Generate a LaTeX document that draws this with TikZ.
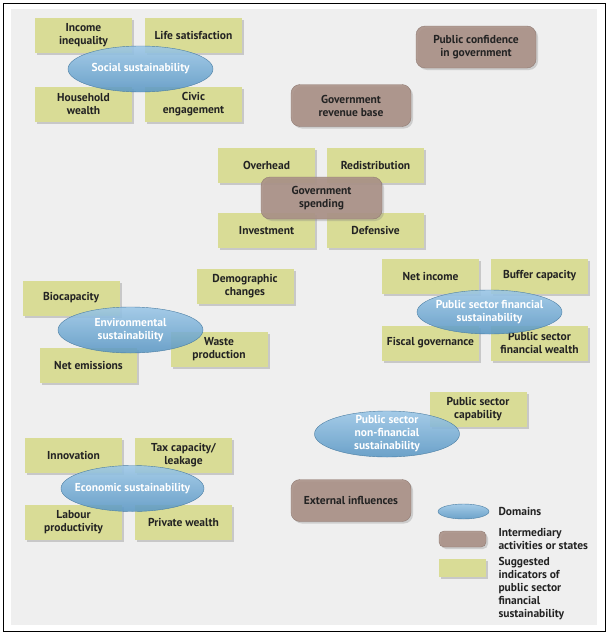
\documentclass[tikz,border=0pt]{standalone}
\usepackage{fontspec}
\setmainfont{PT Sans}
\usetikzlibrary{shapes.geometric,shadows}

\definecolor{indgreen}{RGB}{217,220,150}
\definecolor{interbrown}{RGB}{170,145,135}
\definecolor{domblue}{RGB}{100,168,218}
\definecolor{panelgrey}{RGB}{239,239,239}
\definecolor{textgrey}{RGB}{35,35,35}

\tikzset{
    lbl/.style = {font=\fontsize{11.5}{13}\selectfont\bfseries, text=textgrey, align=center},
    indbox/.style = {lbl, rectangle, fill=indgreen, minimum width=97pt, minimum height=35pt,
        inner sep=1pt, drop shadow={shadow xshift=2pt, shadow yshift=-2pt, opacity=0.35}},
    domell/.style = {lbl, ellipse, text=white, draw=domblue!75!black, line width=0.4pt,
        top color=domblue!65!white, bottom color=domblue!90!black, fill opacity=0.88, text opacity=1,
        minimum width=145pt, minimum height=46pt, inner xsep=-12pt, inner ysep=-9pt},
    interbox/.style = {lbl, rectangle, rounded corners=9pt, fill=interbrown, draw=interbrown!85!black,
        line width=0.4pt, minimum width=120pt, minimum height=42pt, fill opacity=0.9, text opacity=1,
        drop shadow={shadow xshift=2pt, shadow yshift=-2pt, opacity=0.3}},
    keytext/.style = {lbl, anchor=west, align=left},
}

\begin{document}
\begin{tikzpicture}[x=1pt, y=-1pt]
    \useasboundingbox (0,0) rectangle (607,637);
    \draw[line width=1pt] (3,3) rectangle (605,631);
    \fill[panelgrey] (11,9) rectangle (597,625);

    \path
        (83.5,35.5) node[indbox] (inc) {Income\\inequality}
        (193.5,35.5) node[indbox] (life) {Life satisfaction}
        (83.5,104) node[indbox] (hh) {Household\\wealth}
        (193.5,104) node[indbox] (civ) {Civic\\engagement}
        (140.5,69) node[domell] (soc) {Social sustainability}

        (476,47) node[interbox] (conf) {Public confidence\\in government}
        (351,105.5) node[interbox] (rev) {Government\\revenue base}

        (266.5,165.5) node[indbox] (ovh) {Overhead}
        (375.5,165.5) node[indbox] (redist) {Redistribution}
        (266.5,230.5) node[indbox] (invest) {Investment}
        (375.5,230.5) node[indbox] (defens) {Defensive}
        (321.5,198) node[interbox, minimum width=121pt] (spend) {Government\\spending}

        (71,298) node[indbox] (bio) {Biocapacity}
        (245,286) node[indbox] (demo) {Demographic\\changes}
        (219,349.5) node[indbox] (waste) {Waste\\production}
        (88.5,365) node[indbox] (netem) {Net emissions}
        (130.5,330) node[domell] (env) {Environmental\\sustainability}

        (430.5,276) node[indbox] (netinc) {Net income}
        (539.5,276) node[indbox] (buffer) {Buffer capacity}
        (430.5,343) node[indbox] (fiscal) {Fiscal governance}
        (539.5,343) node[indbox] (pswealth) {Public sector\\financial wealth}
        (489.5,312) node[domell, minimum height=44pt] (psf) {Public sector financial\\sustainability}

        (478,409.5) node[indbox] (capab) {Public sector\\capability}
        (387,434) node[domell] (psnf) {Public sector\\non-financial\\sustainability}

        (73.5,455) node[indbox] (innov) {Innovation}
        (183.5,455) node[indbox] (tax) {Tax capacity/\\leakage}
        (73.5,522.5) node[indbox] (labour) {Labour\\productivity}
        (183.5,522.5) node[indbox] (priv) {Private wealth}
        (132.5,488.5) node[domell, minimum width=143pt] (econ) {Economic sustainability}

        (351,500.5) node[interbox] (ext) {External influences}

        (463.5,511.5) node[domell, minimum width=51pt, minimum height=15pt] (keydom) {}
        (462.5,539) node[interbox, minimum width=47pt, minimum height=16pt, rounded corners=5pt] (keyint) {}
        (462.5,568) node[indbox, minimum width=47pt, minimum height=18pt] (keyind) {}
        (495,511.5) node[keytext] (keydomtxt) {Domains}
        (495,539) node[keytext] (keyinttxt) {Intermediary\\activities or states}
        (495,588.5) node[keytext] (keyindtxt) {Suggested\\indicators of\\public sector\\financial\\sustainability}
        ;
\end{tikzpicture}
\end{document}
